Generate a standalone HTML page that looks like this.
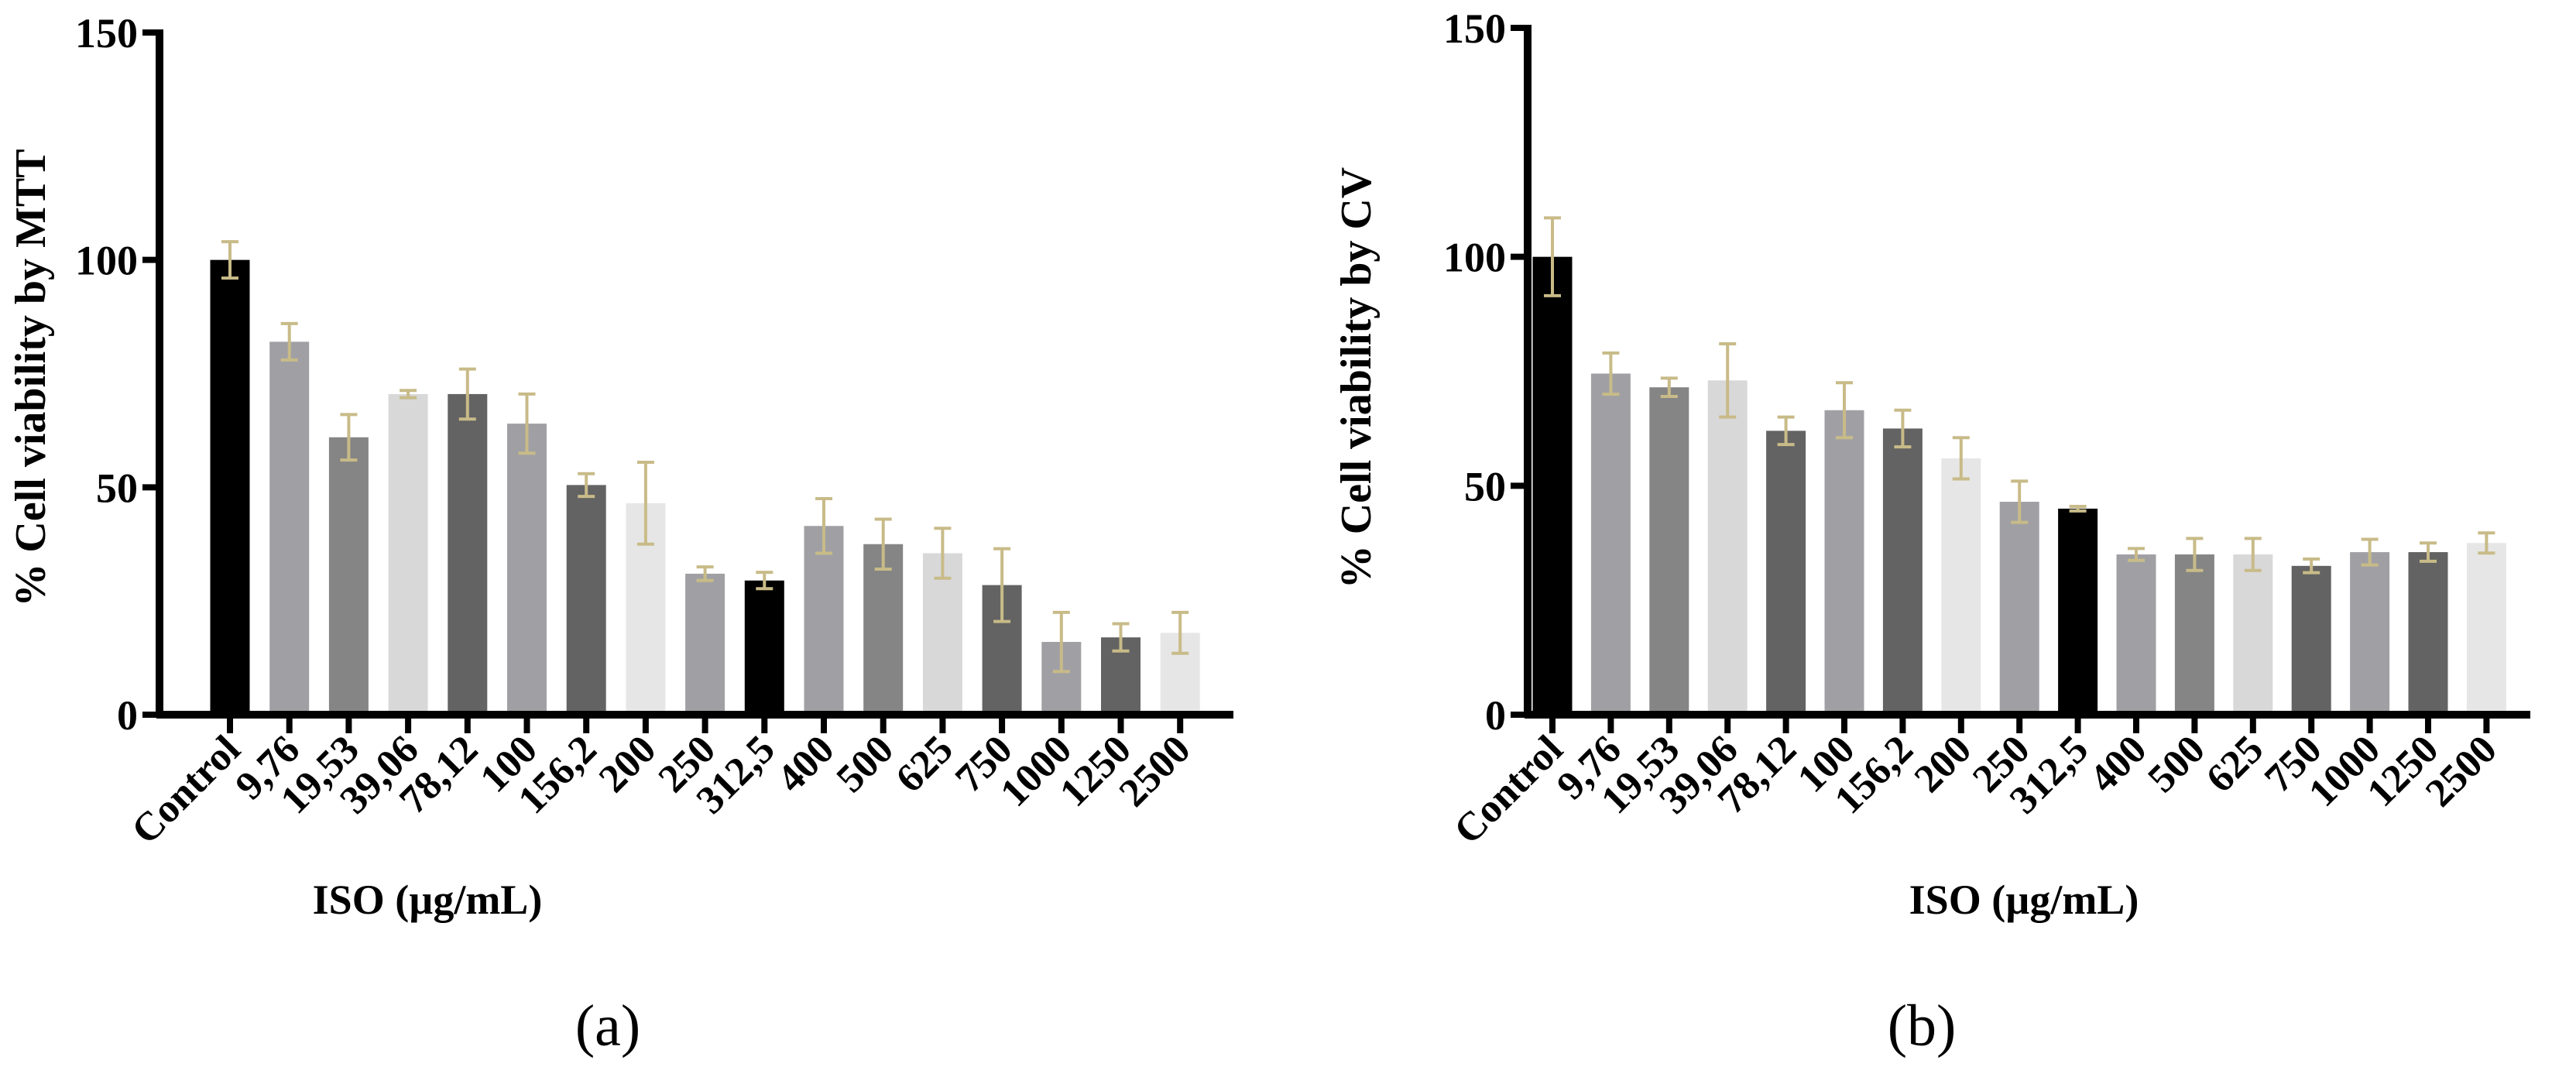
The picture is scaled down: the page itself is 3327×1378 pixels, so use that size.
<!DOCTYPE html>
<html><head><meta charset="utf-8"><style>
html,body{margin:0;padding:0;background:#fff;}
svg{display:block;font-family:"Liberation Serif",serif;font-weight:bold;}
</style></head><body>
<svg id="svg" width="3327" height="1378" viewBox="0 0 3327 1378" xmlns="http://www.w3.org/2000/svg"></svg>
<script>
const categories = ["Control","9,76","19,53","39,06","78,12","100","156,2","200","250","312,5","400","500","625","750","1000","1250","2500"];
const mttValues = [100,82,61,70.5,70.5,64,50.5,46.5,31,29.5,41.5,37.5,35.5,28.5,16,17,18];
const mttErr = [4,4,5,0.8,5.5,6.5,2.5,9,1.5,1.8,6,5.5,5.5,8,6.5,3,4.5];
const cvValues = [100,74.5,71.5,73,62,66.5,62.5,56,46.5,45,35,35,35,32.5,35.5,35.5,37.5];
const cvErr = [8.5,4.5,2,8,3,6,4,4.5,4.5,0.5,1.3,3.5,3.5,1.5,2.8,2,2.2];
const yTicks = [0,50,100,150];
const barColors = ["#000","#a0a0a4","#858585","#d8d8d8","#636363","#a0a0a4","#636363","#e6e6e6","#a0a0a4","#000","#a0a0a4","#858585","#d8d8d8","#636363","#a0a0a4","#636363","#e6e6e6"];

const NS="http://www.w3.org/2000/svg";
const svg=document.getElementById('svg');
function mk(tag,attrs,parent,text){const e=document.createElementNS(NS,tag);for(const k in attrs)e.setAttribute(k,attrs[k]);if(text!==undefined)e.textContent=text;(parent||svg).appendChild(e);return e;}

function chart(cfg){
  const g=mk('g',{});
  
  
  const y0=923, y150=cfg.yTop;
  const yScale=v=>y0-(v/150)*(y0-y150);
  const xScale=i=>cfg.x0+i*cfg.step;
  const bw=51;
  cfg.values.forEach((v,i)=>{
    const r=mk('rect',{x:xScale(i)-bw/2,y:yScale(v),width:bw,height:y0-yScale(v),fill:barColors[i]},g);
    
    
  });
  cfg.values.forEach((v,i)=>{
    const e=cfg.err[i], x=xScale(i);
    const eg=mk('g',{stroke:'#c8bb88','stroke-width':4,fill:'none'},g);
    
    
    mk('line',{x1:x,x2:x,y1:yScale(v+e),y2:yScale(v-e)},eg);
    mk('line',{x1:x-11,x2:x+11,y1:yScale(v+e),y2:yScale(v+e)},eg);
    mk('line',{x1:x-11,x2:x+11,y1:yScale(v-e),y2:yScale(v-e)},eg);
  });
  const ya=mk('line',{x1:cfg.ax,x2:cfg.ax,y1:y150-4,y2:y0+4,stroke:'#000','stroke-width':10},g);
  
  const xa=mk('line',{x1:cfg.ax-4,x2:cfg.xEnd,y1:y0,y2:y0,stroke:'#000','stroke-width':10},g);
  
  yTicks.forEach(t=>{
    mk('line',{x1:cfg.ax-22,x2:cfg.ax,y1:yScale(t),y2:yScale(t),stroke:'#000','stroke-width':8},g);
    const tl=mk('text',{x:cfg.ax-28,y:yScale(t)+19,'text-anchor':'end','font-size':54},g,String(t));
    
  });
  categories.forEach((c,i)=>{
    const x=xScale(i);
    mk('line',{x1:x,x2:x,y1:y0,y2:y0+24,stroke:'#000','stroke-width':8},g);
    const tl=mk('text',{x:x+16,y:y0+48,'text-anchor':'end','font-size':52,transform:`rotate(-45 ${x+16} ${y0+48})`},g,c);
    
  });
  const xt=mk('text',{x:cfg.xTitleX,y:1180,'text-anchor':'middle','font-size':54},g,'ISO (µg/mL)');
  
  const yt=mk('text',{x:cfg.yTitleX,y:488,'text-anchor':'middle','font-size':56,transform:`rotate(-90 ${cfg.yTitleX} 488)`},g,cfg.yTitle);
  
  const pl=mk('text',{x:cfg.panelX,y:1350,'text-anchor':'middle','font-size':76,'font-weight':'normal'},g,cfg.panel);
  
}
chart({name:'chart-mtt',values:mttValues,err:mttErr,yTop:42,ax:206,x0:297,step:76.7,xEnd:1593,xTitleX:552,yTitleX:58,yTitle:'% Cell viability by MTT',panelX:785,panel:'(a)'});
chart({name:'chart-cv',values:cvValues,err:cvErr,yTop:36,ax:1973,x0:2005,step:75.4,xEnd:3268,xTitleX:2614,yTitleX:1770,yTitle:'%  Cell viability by CV',panelX:2482,panel:'(b)'});
</script>
</body></html>
